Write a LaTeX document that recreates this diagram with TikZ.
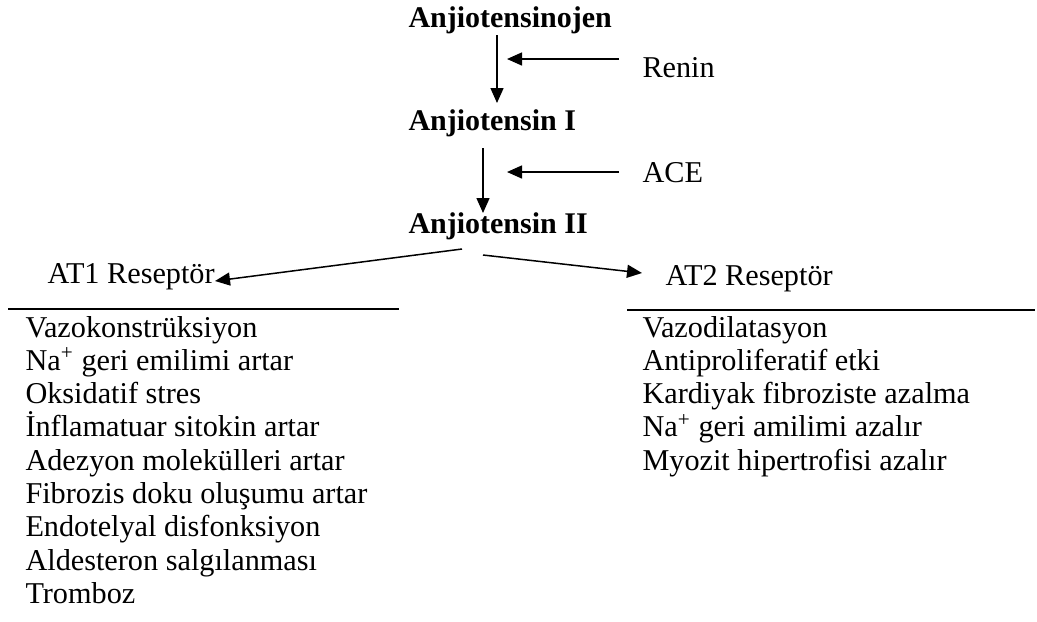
\documentclass[tikz,border=0pt]{standalone}
\usepackage{fontspec}
\setmainfont{Liberation Serif}
\usetikzlibrary{arrows.meta, positioning}

\begin{document}
\begin{tikzpicture}[x=0.4pt, y=-0.4pt,
    chem/.style={anchor=base west, inner sep=0pt,
        font=\fontsize{12}{14}\selectfont\bfseries},
    txt/.style={anchor=base west, inner sep=0pt,
        font=\fontsize{12.1}{14}\selectfont},
    arrow/.style={-{Triangle[length=6pt, width=5.2pt]}, line width=0.6pt},
    rule/.style={line width=0.8pt}
]
\useasboundingbox (0,0) rectangle (1037,621);
% main cascade
\node[chem] (ajen) at (408,27)  {Anjiotensinojen};
\node[chem] (a1)   at (408,130) {Anjiotensin I};
\node[chem] (a2)   at (408,233) {Anjiotensin II};
\node[txt]  (renin) at (642,77)  {Renin};
\node[txt]  (ace)   at (642,182) {ACE};
% receptors
\node[txt] (at1) at (47,283)  {AT1 Reseptör};
\node[txt] (at2) at (665,285) {AT2 Reseptör};
% arrow ends
\coordinate (v1top) at (497,35);
\coordinate (v1bot) at (497,103);
\coordinate (v2top) at (483,148);
\coordinate (v2bot) at (483,213);
\coordinate (reninA) at (619,59);
\coordinate (reninB) at (507,59);
\coordinate (aceA) at (619,172);
\coordinate (aceB) at (507,172);
\coordinate (split1) at (462,249);
\coordinate (split2) at (483,255);
\coordinate (at1tip) at (215,281);
\coordinate (at2tip) at (642,273);
% arrows
\draw[arrow] (v1top) -- (v1bot);
\draw[arrow] (v2top) -- (v2bot);
\draw[arrow] (reninA) -- (reninB);
\draw[arrow] (aceA) -- (aceB);
\draw[arrow] (split1) -- (at1tip);
\draw[arrow] (split2) -- (at2tip);
% rules under the receptors
\coordinate (l1) at (8,309);
\coordinate (l2) at (399,309);
\coordinate (r1) at (627,310);
\coordinate (r2) at (1035,310);
\draw[rule] (l1) -- (l2);
\draw[rule] (r1) -- (r2);
% effect lists
\foreach \t [count=\i from 0] in {Vazokonstrüksiyon,
    Na\textsuperscript{+} geri emilimi artar, Oksidatif stres,
    İnflamatuar sitokin artar, Adezyon molekülleri artar,
    Fibrozis doku oluşumu artar, Endotelyal disfonksiyon,
    Aldesteron salgılanması, Tromboz}
  \node[txt] (left\i) at (25,337+33.3*\i) {\t};
\foreach \t [count=\i from 0] in {Vazodilatasyon,
    Antiproliferatif etki, Kardiyak fibroziste azalma,
    Na\textsuperscript{+} geri amilimi azalır,
    Myozit hipertrofisi azalır}
  \node[txt] (right\i) at (642,337+33.3*\i) {\t};
\end{tikzpicture}
\end{document}
